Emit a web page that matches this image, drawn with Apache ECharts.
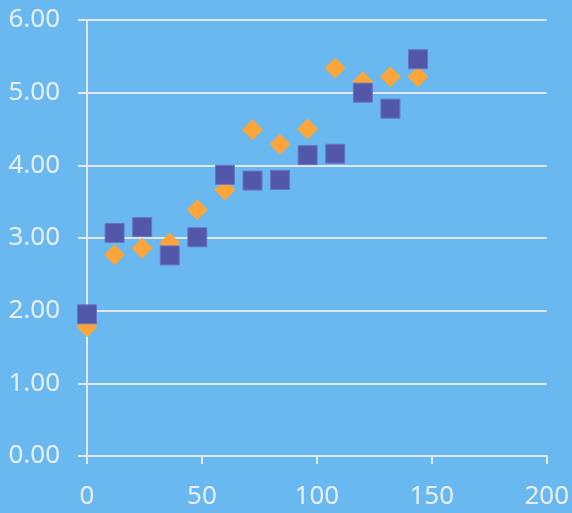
<!DOCTYPE html>
<html>
<head>
<meta charset="utf-8">
<script src="https://cdn.jsdelivr.net/npm/echarts@6/dist/echarts.min.js"></script>
<style>
  html, body { margin: 0; padding: 0; background: #69B9F0; }
  #chart { width: 572px; height: 513px; }
</style>
</head>
<body>
<div id="chart"></div>
<script>
// Sample times shared by both series
const xValues = [0, 12, 24, 36, 48, 60, 72, 84, 96, 108, 120, 132, 144];
// Orange diamond series
const diamondValues = [1.78, 2.77, 2.86, 2.93, 3.39, 3.66, 4.49, 4.29, 4.50, 5.34, 5.15, 5.22, 5.22];
// Blue square series
const squareValues = [1.95, 3.07, 3.15, 2.76, 3.01, 3.87, 3.79, 3.80, 4.14, 4.16, 5.00, 4.78, 5.46];

const yTicks = { min: 0, max: 6, interval: 1 };
const xTicks = { min: 0, max: 200, interval: 50 };

const pairs = (xs, ys) => xs.map((x, i) => [x, ys[i]]);

const textColor = '#E8EEF4';
const lineColor = '#E2E8EE';
const labelFont = { color: textColor, fontSize: 26, fontFamily: 'Noto Sans, sans-serif', fontWeight: 'normal' };

const chart = echarts.init(document.getElementById('chart'), null, { renderer: 'canvas' });
chart.setOption({
  backgroundColor: '#69B9F0',
  animation: false,
  grid: { left: 87, right: 22, top: 20, bottom: 57, containLabel: false },
  xAxis: {
    type: 'value',
    min: xTicks.min, max: xTicks.max, interval: xTicks.interval,
    axisLine: { show: true, onZero: false, lineStyle: { color: lineColor, width: 2 } },
    axisTick: { show: true, length: 8, lineStyle: { color: lineColor, width: 2 } },
    splitLine: { show: false },
    axisLabel: Object.assign({ margin: 28 }, labelFont)
  },
  yAxis: {
    type: 'value',
    min: yTicks.min, max: yTicks.max, interval: yTicks.interval,
    axisLine: { show: true, onZero: false, lineStyle: { color: lineColor, width: 2 } },
    axisTick: { show: true, length: 9, lineStyle: { color: lineColor, width: 2 } },
    splitLine: { show: true, lineStyle: { color: lineColor, width: 2 } },
    axisLabel: Object.assign({ margin: 27, formatter: v => v.toFixed(2) }, labelFont)
  },
  series: [
    {
      name: 'diamonds',
      type: 'scatter',
      symbol: 'diamond',
      symbolSize: 21,
      data: pairs(xValues, diamondValues),
      itemStyle: { color: '#FBA53B', opacity: 1 }
    },
    {
      name: 'squares',
      type: 'scatter',
      symbol: 'rect',
      symbolSize: 19,
      data: pairs(xValues, squareValues),
      itemStyle: { color: '#5357A9', borderColor: '#6B73C4', borderWidth: 1, opacity: 1 }
    }
  ]
});
</script>
</body>
</html>
